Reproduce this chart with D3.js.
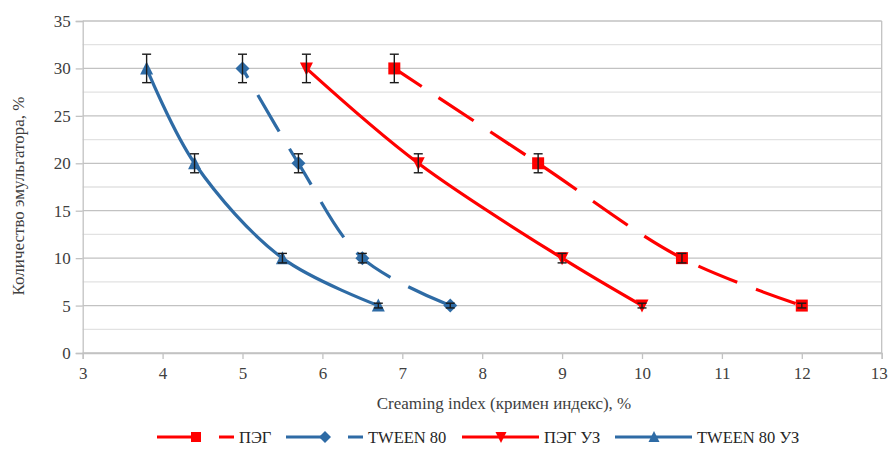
<!DOCTYPE html>
<html>
<head>
<meta charset="utf-8">
<script src="https://cdn.jsdelivr.net/npm/d3@7"></script>
<style>
  html, body { margin: 0; padding: 0; background: #fff; }
  svg text { font-family: "Liberation Serif", "Times New Roman", serif; fill: #404040; }
</style>
</head>
<body>
<div id="chart"></div>
<script>
var width = 889;
var height = 450;

// data
var emulsifier = [30, 20, 10, 5];          // Количество эмульгатора, %
var errBars    = [1.5, 1, 0.5, 0.25];      // vertical error bars
var pegCI      = [6.9, 8.7, 10.5, 12.0];   // ПЭГ
var tweenCI    = [5.0, 5.7, 6.5, 7.6];     // TWEEN 80
var pegUzCI    = [5.8, 7.2, 9.0, 10.0];    // ПЭГ УЗ
var tweenUzCI  = [3.8, 4.4, 5.5, 6.7];     // TWEEN 80 УЗ

var xTicks = [3, 4, 5, 6, 7, 8, 9, 10, 11, 12, 13];
var yTicks = [0, 5, 10, 15, 20, 25, 30, 35];
var yMinor = [2.5, 7.5, 12.5, 17.5, 22.5, 27.5, 32.5];

var seriesNames = ["ПЭГ", "TWEEN 80", "ПЭГ УЗ", "TWEEN 80 УЗ"];
var seriesX = [pegCI, tweenCI, pegUzCI, tweenUzCI];

var red = "#ff0000", blue = "#2e6ba5";
var styles = [
  {color: red,  dash: "42,20", marker: "square",   offset: 9},
  {color: blue, dash: "42,20", marker: "diamond",  offset: 31},
  {color: red,  dash: null,    marker: "triDown",  offset: 0},
  {color: blue, dash: null,    marker: "triUp",    offset: 0}
];

var series = seriesNames.map(function(name, i){
  return {
    name: name,
    style: styles[i],
    points: seriesX[i].map(function(x, j){ return {x: x, y: emulsifier[j], e: errBars[j]}; })
  };
});

var svg = d3.select("#chart").append("svg")
  .attr("width", width)
  .attr("height", height);

var x = d3.scaleLinear().domain([3, 13]).range([82.7, 881.7]);
var y = d3.scaleLinear().domain([0, 35]).range([353, 21]);

// grid
svg.append("g").selectAll("line").data(yMinor).join("line")
  .attr("x1", x(3)).attr("x2", x(13))
  .attr("y1", d => y(d)).attr("y2", d => y(d))
  .style("stroke", "#e2e2e2").style("stroke-width", 1.3);
svg.append("g").selectAll("line").data(yTicks).join("line")
  .attr("x1", x(3)).attr("x2", x(13))
  .attr("y1", d => y(d)).attr("y2", d => y(d))
  .style("stroke", "#c2c2c2").style("stroke-width", 1.3);
svg.append("line")
  .attr("x1", x(13)).attr("x2", x(13)).attr("y1", y(35)).attr("y2", y(0))
  .style("stroke", "#c2c2c2").style("stroke-width", 1.3);

// axes
var yAxis = d3.axisLeft(y).tickValues(yTicks).tickSize(7).tickPadding(5);
var xAxis = d3.axisBottom(x).tickValues(xTicks).tickSize(6).tickPadding(8);

var gy = svg.append("g").attr("transform", "translate(" + x(3) + ",0)").call(yAxis);
var gx = svg.append("g").attr("transform", "translate(0," + y(0) + ")").call(xAxis);
[gx, gy].forEach(function(g){
  g.select(".domain").style("stroke", "#c2c2c2").style("stroke-width", 1.3);
  g.selectAll(".tick line").style("stroke", "#c2c2c2").style("stroke-width", 1.3);
  g.selectAll(".tick text").style("font-size", "17px").style("font-family", "Liberation Serif").attr("fill", "#404040");
});
// last label sits on the window edge, nudge it in
gx.selectAll(".tick text").filter(d => d == 13).attr("dx", -3);

// axis titles
svg.append("text")
  .attr("x", 504).attr("y", 409)
  .attr("text-anchor", "middle")
  .style("font-size", "17px")
  .text("Creaming index (кримен индекс), %");
svg.append("text")
  .attr("transform", "translate(24,196) rotate(-90)")
  .attr("text-anchor", "middle")
  .style("font-size", "17px")
  .text("Количество эмульгатора, %");

// marker shapes
function markerPath(type, s){
  var h = s/2;
  if(type == "square") return "M" + (-h) + "," + (-h) + "h" + s + "v" + s + "h" + (-s) + "Z";
  if(type == "diamond") return "M0," + (-h-1) + "L" + (h+1) + ",0L0," + (h+1) + "L" + (-h-1) + ",0Z";
  if(type == "triUp") return "M0," + (-h-1) + "L" + (h+0.5) + "," + h + "L" + (-h-0.5) + "," + h + "Z";
  if(type == "triDown") return "M0," + (h+1) + "L" + (h+0.5) + "," + (-h) + "L" + (-h-0.5) + "," + (-h) + "Z";
}

var line = d3.line()
  .x(d => x(d.x)).y(d => y(d.y))
  .curve(d3.curveCatmullRom.alpha(0.5));

// lines
series.forEach(function(s){
  svg.append("path")
    .datum(s.points)
    .attr("d", line)
    .style("fill", "none")
    .style("stroke", s.style.color)
    .style("stroke-width", 3.2)
    .style("stroke-dasharray", s.style.dash)
    .style("stroke-dashoffset", s.style.offset);
});

// markers
series.forEach(function(s){
  svg.append("g").selectAll("path").data(s.points).join("path")
    .attr("transform", d => "translate(" + x(d.x) + "," + y(d.y) + ")")
    .attr("d", markerPath(s.style.marker, 12))
    .style("fill", s.style.color);
});

// error bars
series.forEach(function(s){
  var g = svg.append("g").style("stroke", "#1a1a1a").style("stroke-width", 1.4);
  g.selectAll(".v").data(s.points).join("line")
    .attr("x1", d => x(d.x)).attr("x2", d => x(d.x))
    .attr("y1", d => y(d.y + d.e)).attr("y2", d => y(d.y - d.e));
  g.selectAll(".t").data(s.points).join("line")
    .attr("x1", d => x(d.x) - 4.5).attr("x2", d => x(d.x) + 4.5)
    .attr("y1", d => y(d.y + d.e)).attr("y2", d => y(d.y + d.e));
  g.selectAll(".b").data(s.points).join("line")
    .attr("x1", d => x(d.x) - 4.5).attr("x2", d => x(d.x) + 4.5)
    .attr("y1", d => y(d.y - d.e)).attr("y2", d => y(d.y - d.e));
});

// legend
var legendX = [157, 286, 462, 615];
var legendY = 437;
series.forEach(function(s, i){
  var g = svg.append("g").attr("transform", "translate(" + legendX[i] + "," + legendY + ")");
  g.append("line")
    .attr("x1", 0).attr("x2", 77).attr("y1", 0).attr("y2", 0)
    .style("stroke", s.style.color)
    .style("stroke-width", 3.2)
    .style("stroke-dasharray", s.style.dash);
  g.append("path")
    .attr("transform", "translate(39,0)")
    .attr("d", markerPath(s.style.marker, 10))
    .style("fill", s.style.color);
  g.append("text")
    .attr("x", 82).attr("y", 6)
    .style("font-size", "16.5px")
    .style("fill", "#262626")
    .text(s.name);
});
</script>
</body>
</html>
